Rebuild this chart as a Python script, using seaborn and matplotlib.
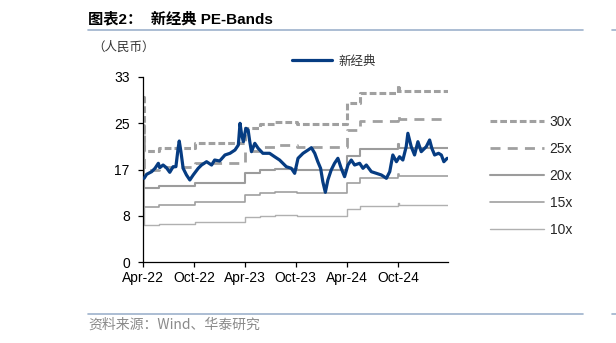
import matplotlib
matplotlib.use("Agg")
import numpy as np
import pandas as pd
import seaborn as sns
import matplotlib.pyplot as plt
from matplotlib.lines import Line2D

# ---------------- data ----------------
price_dates = [
    "2022-04-05", "2022-04-14", "2022-05-02", "2022-05-14", "2022-05-26", "2022-05-31",
    "2022-06-12", "2022-06-24", "2022-07-06", "2022-07-18", "2022-07-28", "2022-08-05",
    "2022-08-09", "2022-08-15", "2022-08-23", "2022-09-04", "2022-09-16", "2022-09-28",
    "2022-10-16", "2022-10-28", "2022-11-15", "2022-12-03", "2022-12-14", "2023-01-01",
    "2023-01-20", "2023-02-07", "2023-02-25", "2023-03-09", "2023-03-15", "2023-03-21",
    "2023-03-27", "2023-04-05", "2023-04-13", "2023-04-19", "2023-04-25", "2023-05-07",
    "2023-05-19", "2023-06-05", "2023-06-29", "2023-07-17", "2023-08-04", "2023-08-28",
    "2023-09-15", "2023-09-27", "2023-10-09", "2023-10-27", "2023-11-14", "2023-11-26",
    "2023-12-08", "2023-12-19", "2023-12-29", "2024-01-06", "2024-01-15", "2024-01-24",
    "2024-02-05", "2024-02-17", "2024-02-29", "2024-03-12", "2024-03-24", "2024-04-05",
    "2024-04-17", "2024-04-29", "2024-05-17", "2024-05-29", "2024-06-10", "2024-06-28",
    "2024-07-16", "2024-08-03", "2024-08-21", "2024-09-02", "2024-09-13", "2024-09-26",
    "2024-10-07", "2024-10-19", "2024-10-31", "2024-11-06", "2024-11-18", "2024-11-30",
    "2024-12-12", "2024-12-24", "2025-01-11", "2025-01-23", "2025-01-31", "2025-02-10",
    "2025-02-24", "2025-03-06", "2025-03-15", "2025-03-27",
]
price_values = [
    14.93, 15.64, 16.11, 16.71, 17.61, 16.82,
    17.30, 16.82, 16.00, 17.00, 17.00, 20.28,
    21.58, 19.68, 16.71, 15.52, 14.63, 15.52,
    16.71, 17.30, 17.89, 17.30, 18.19, 18.02,
    19.09, 19.39, 19.98, 20.87, 24.74, 22.65,
    21.46, 23.85, 23.55, 21.46, 19.68, 21.17,
    20.28, 19.39, 19.39, 18.78, 18.19, 17.00,
    16.71, 15.82, 18.50, 19.39, 19.98, 20.39,
    19.39, 17.89, 16.71, 14.32, 12.43, 14.63,
    16.41, 17.61, 18.50, 16.71, 15.22, 17.30,
    18.19, 17.30, 17.61, 16.71, 17.30, 16.11,
    15.82, 15.52, 14.93, 16.11, 19.09, 17.89,
    18.78, 18.19, 20.57, 22.96, 20.57, 19.09,
    21.46, 19.68, 20.57, 21.76, 20.28, 19.09,
    19.39, 19.09, 17.89, 18.50,
]

# EPS used for the PE bands (step changes)
band_dates = [
    "2022-04-01", "2022-04-06", "2022-05-27", "2022-10-05", "2023-04-03", "2023-05-25",
    "2023-07-20", "2023-10-04", "2024-04-01", "2024-05-17", "2024-10-02", "2024-10-05",
    "2025-03-31",
]
band_eps = [0.98, 0.66, 0.678, 0.708, 0.794, 0.82, 0.833, 0.82, 0.945, 1.004, 1.05, 1.017, 1.017]

multiples = [30, 25, 20, 15, 10]
band_labels = ["30x", "25x", "20x", "15x", "10x"]
series_label = "新经典"

ytick_values = [0, 8.25, 16.5, 24.75, 33]
ytick_labels = ["0", "8", "17", "25", "33"]
xtick_dates = ["2022-04-01", "2022-10-01", "2023-04-01", "2023-10-01", "2024-04-01", "2024-10-01"]
xtick_labels = ["Apr-22", "Oct-22", "Apr-23", "Oct-23", "Apr-24", "Oct-24"]

title_text = "图表2：  新经典 PE-Bands"
unit_text = "（人民币）"
source_text = "资料来源：Wind、华泰研究"

# ---------------- frames ----------------
df_price = pd.DataFrame({"date": pd.to_datetime(price_dates), "value": price_values})
bd = pd.to_datetime(band_dates)
df_bands = pd.concat(
    [pd.DataFrame({"date": bd, "value": np.array(band_eps) * m, "band": lab})
     for m, lab in zip(multiples, band_labels)],
    ignore_index=True,
)

# ---------------- style ----------------
sns.set_style("ticks")
plt.rcParams["font.family"] = ["Liberation Sans", "Noto Sans CJK SC", "DejaVu Sans"]
cjk = ["Noto Sans CJK SC", "Liberation Sans"]
mixed = ["Liberation Sans", "Noto Sans CJK SC"]

band_styles = {
    "30x": dict(color="#A0A0A0", lw=2.2, ls=(0, (2.2, 1.0))),
    "25x": dict(color="#A0A0A0", lw=2.0, ls=(0, (3.6, 2.6))),
    "20x": dict(color="#9C9C9C", lw=1.5, ls="-"),
    "15x": dict(color="#A0A0A0", lw=1.2, ls="-"),
    "10x": dict(color="#B0B0B0", lw=1.0, ls="-"),
}
blue = "#063C82"

fig = plt.figure(figsize=(6.16, 3.43), dpi=100)
ax = fig.add_axes([143 / 616, 1 - 262 / 343, 305.3 / 616, 185 / 343])

for lab in band_labels:
    st = band_styles[lab]
    sns.lineplot(data=df_bands[df_bands["band"] == lab], x="date", y="value", ax=ax,
                 color=st["color"], lw=st["lw"], linestyle=st["ls"],
                 drawstyle="steps-post", legend=False, zorder=2)

sns.lineplot(data=df_price, x="date", y="value", ax=ax, color=blue, lw=2.3,
             legend=False, zorder=3)

ax.set_ylim(0, 33)
ax.set_xlim(pd.Timestamp("2022-04-01"), pd.Timestamp("2025-03-31"))
ax.set_yticks(ytick_values)
ax.set_yticklabels(ytick_labels)
ax.set_xticks(pd.to_datetime(xtick_dates))
ax.set_xticklabels(xtick_labels)
ax.set_xlabel("")
ax.set_ylabel("")
for s in ["top", "right"]:
    ax.spines[s].set_visible(False)
for s in ["left", "bottom"]:
    ax.spines[s].set_color("black")
    ax.spines[s].set_linewidth(0.9)
ax.tick_params(axis="both", length=3.5, width=0.9, color="black",
               labelsize=10, labelcolor="black", pad=3)
ax.tick_params(axis="y", pad=6)

# legends
h_blue = [Line2D([], [], color=blue, lw=2.3)]
leg1 = fig.legend(h_blue, [series_label], loc="center left",
                  bbox_to_anchor=(292 / 616, 1 - 61 / 343), frameon=False,
                  borderpad=0, borderaxespad=0, handlelength=3.2, handletextpad=0.5,
                  prop={"family": cjk, "size": 9})
for t in leg1.get_texts():
    t.set_color("#333333")

h_bands = [Line2D([], [], color=band_styles[l]["color"], lw=band_styles[l]["lw"],
                  linestyle=band_styles[l]["ls"]) for l in band_labels]
leg2 = fig.legend(h_bands, band_labels, loc="center left",
                  bbox_to_anchor=(490 / 616, 1 - 176 / 343), frameon=False,
                  borderpad=0, borderaxespad=0, handlelength=3.9, handletextpad=0.4,
                  labelspacing=0.93, prop={"family": mixed, "size": 10})

# texts and rules
fig.text(88 / 616, 1 - 19 / 343, title_text, family=mixed, fontsize=11,
         fontweight="bold", ha="left", va="center", color="black")
fig.add_artist(Line2D([88 / 616, 583 / 616], [1 - 29.5 / 343] * 2, color="#9DB2CC", lw=1.2))
fig.add_artist(Line2D([612 / 616, 1.0], [1 - 29.5 / 343] * 2, color="#9DB2CC", lw=1.2))
fig.text(92 / 616, 1 - 47 / 343, unit_text, family=cjk, fontsize=9,
         ha="left", va="center", color="#333333")
fig.add_artist(Line2D([88 / 616, 583 / 616], [1 - 313.5 / 343] * 2, color="#9DB2CC", lw=1.2))
fig.add_artist(Line2D([612 / 616, 1.0], [1 - 313.5 / 343] * 2, color="#9DB2CC", lw=1.2))
fig.text(88 / 616, 1 - 325 / 343, source_text, family=cjk, fontsize=10,
         ha="left", va="center", color="#8A8A8A")

fig.savefig("out.png", dpi=100)
